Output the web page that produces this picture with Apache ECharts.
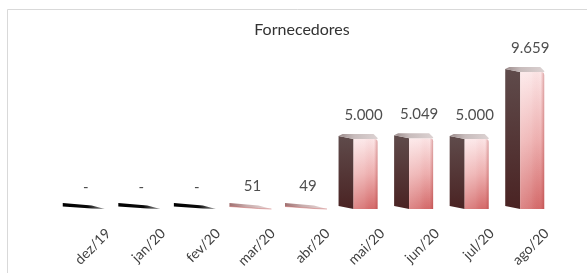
<!DOCTYPE html>
<html>
<head>
<meta charset="utf-8">
<script src="https://cdn.jsdelivr.net/npm/echarts@6/dist/echarts.min.js"></script>
<style>
  html, body { margin: 0; padding: 0; background: #ffffff; }
  #chart { width: 587px; height: 273px; }
</style>
</head>
<body>
<div id="chart"></div>
<script>
// ---- Data ----
const chartTitle = 'Fornecedores';
const categories = ['dez/19', 'jan/20', 'fev/20', 'mar/20', 'abr/20', 'mai/20', 'jun/20', 'jul/20', 'ago/20'];
const fornecedores = [0, 0, 0, 51, 49, 5000, 5049, 5000, 9659];

// ---- Helpers ----
function fmt(v) {
  if (!v) return '-';
  return String(v).replace(/\B(?=(\d{3})+(?!\d))/g, '.');
}
const FONT = 'Lato, "Open Sans", sans-serif';

function lg(x, y, x2, y2, stops) {
  return new echarts.graphic.LinearGradient(x, y, x2, y2, stops.map(function (s) { return { offset: s[0], color: s[1] }; }));
}

function renderItem(params, api) {
  const i = api.value(0);
  const v = api.value(1);
  const pTop = api.coord([i, v]);
  const pBase = api.coord([i, 0]);
  const c = pBase[0], y0 = pBase[1], yt = pTop[1];
  const children = [];
  if (y0 - yt < 2) {
    // flat (near-zero) box: only the top face is visible
    const wedge = [[c - 19, y0 - 5], [c + 10, y0 - 2.5], [c + 23, y0 + 1], [c + 10, y0 + 0.5], [c - 19, y0 - 1.5]];
    const fill = v === 0
      ? lg(0, 0, 1, 0, [[0, '#000000'], [0.6, '#0a0a0a'], [1, 'rgba(40,40,40,0.5)']])
      : lg(0, 0, 1, 0, [[0, '#a07070'], [0.4, '#c6aaaa'], [1, 'rgba(215,190,190,0.6)']]);
    children.push({ type: 'polygon', shape: { points: wedge }, style: { fill: fill } });
    if (v !== 0) {
      children.push({ type: 'polyline', shape: { points: [[c - 19, y0 - 1.5], [c + 10, y0 + 0.5], [c + 23, y0 + 1]] },
        style: { stroke: 'rgba(200,90,90,0.6)', lineWidth: 0.8, fill: null } });
    }
    return { type: 'group', children: children };
  }
  // dark left face
  children.push({
    type: 'polygon',
    shape: { points: [[c - 21, yt], [c - 6, yt + 3], [c - 6, y0 + 1], [c - 21, y0 - 2]] },
    style: { fill: lg(0, 0, 0, 1, [[0, '#5f4b4b'], [1, '#4a2323']]) }
  });
  // front face
  children.push({
    type: 'rect',
    shape: { x: c - 6, y: yt + 3, width: 24, height: y0 + 1 - (yt + 3), r: [0, 3, 0, 0] },
    style: { fill: lg(0, 0, 0, 1, [[0, '#fce6e7'], [0.5, '#eeb0b0'], [1, '#d46a6a']]) }
  });
  children.push({
    type: 'rect',
    shape: { x: c - 6, y: yt + 3, width: 24, height: y0 + 1 - (yt + 3), r: [0, 3, 0, 0] },
    style: { fill: lg(0, 0, 1, 0, [[0, 'rgba(255,255,255,0.2)'], [0.45, 'rgba(255,255,255,0.1)'], [0.85, 'rgba(190,70,70,0)'], [1, 'rgba(160,40,40,0.35)']]) }
  });
  // top face
  children.push({
    type: 'polygon',
    shape: { points: [[c - 21, yt], [c - 17, yt - 2], [c + 14, yt - 2], [c + 18, yt + 2], [c + 18, yt + 3], [c - 6, yt + 3]] },
    style: { fill: lg(0, 0, 1, 0, [[0, '#9a8a8a'], [0.4, '#c8bcbc'], [1, '#dcd2d2']]) }
  });
  return { type: 'group', children: children };
}

const chart = echarts.init(document.getElementById('chart'), null, { renderer: 'canvas' });
chart.setOption({
  animation: false,
  backgroundColor: '#ffffff',
  title: {
    text: chartTitle,
    left: 302,
    top: 22,
    textAlign: 'center',
    padding: 0,
    textStyle: { fontFamily: FONT, fontSize: 16, fontWeight: 'normal', color: '#333333' }
  },
  graphic: [{
    type: 'polyline',
    shape: { points: [[7.5, 273], [7.5, 9.5], [587, 9.5]] },
    style: { stroke: '#d9d9d9', lineWidth: 1, fill: null },
    silent: true
  }],
  grid: [
    { left: 54, right: 33, top: 64, bottom: 65 },
    { left: 81, right: 13, top: 64, bottom: 65 }
  ],
  xAxis: [
    { type: 'category', gridIndex: 0, data: categories, axisLine: { show: false }, axisTick: { show: false }, axisLabel: { show: false } },
    { type: 'category', gridIndex: 1, data: categories, axisLine: { show: false }, axisTick: { show: false },
      axisLabel: { rotate: 45, margin: 23, fontFamily: FONT, fontSize: 14, color: '#404040' } }
  ],
  yAxis: [
    { type: 'value', gridIndex: 0, min: 0, max: 10000, show: false },
    { type: 'value', gridIndex: 1, min: 0, max: 1, show: false }
  ],
  series: [
    {
      type: 'custom',
      xAxisIndex: 0, yAxisIndex: 0,
      renderItem: renderItem,
      data: fornecedores.map(function (v, i) { return [i, v]; }),
      encode: { x: 0, y: 1 },
      silent: true
    },
    {
      type: 'scatter',
      xAxisIndex: 0, yAxisIndex: 0,
      data: fornecedores,
      symbolSize: 1,
      itemStyle: { color: 'rgba(0,0,0,0)' },
      silent: true,
      label: {
        show: true, position: 'top', distance: 13, offset: [4, 0],
        formatter: function (p) { return fmt(p.value); },
        fontFamily: FONT, fontSize: 15, color: '#222222'
      }
    }
  ]
});
</script>
</body>
</html>
